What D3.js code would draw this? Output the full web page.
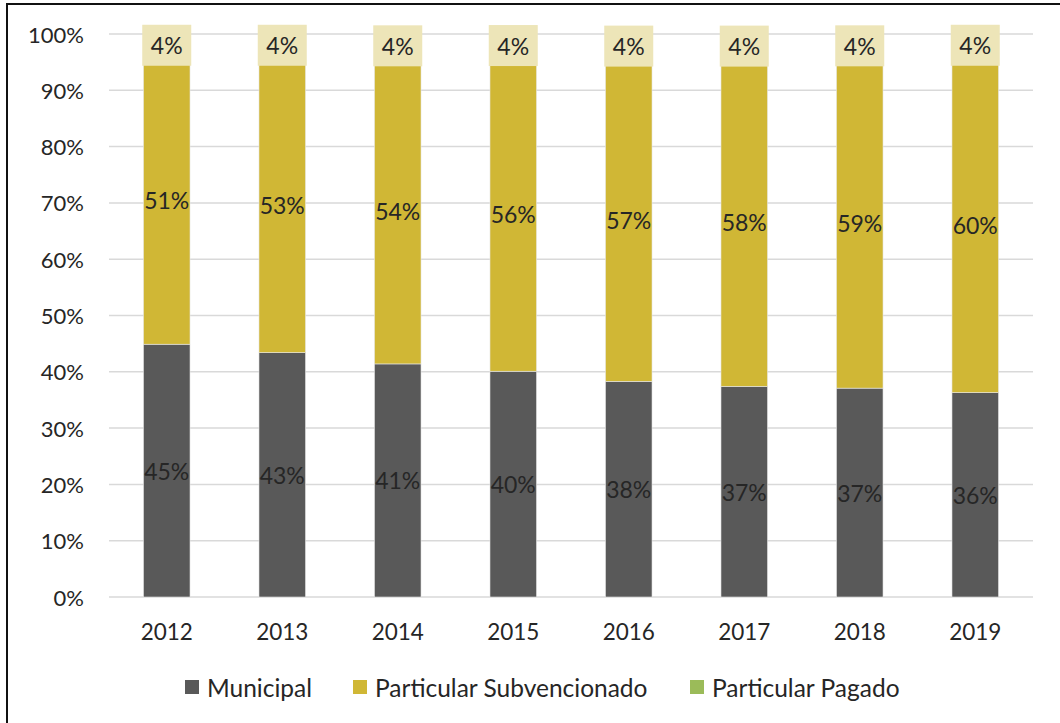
<!DOCTYPE html>
<html><head><meta charset="utf-8">
<script src="https://cdn.jsdelivr.net/npm/d3@7"></script>
<style>
html,body{margin:0;padding:0;background:#fff;}
svg{display:block;}
text{font-family:Lato,"Open Sans",sans-serif;fill:#262626;font-weight:400;}
</style></head>
<body>
<svg id="c" width="1060" height="723"></svg>
<script>
const years = ["2012","2013","2014","2015","2016","2017","2018","2019"];
const municipal = [44.9, 43.4, 41.4, 40.1, 38.3, 37.4, 37.1, 36.3];
const subvencionado = [51.1, 52.6, 54.4, 55.8, 57.4, 58.3, 58.7, 59.7];
const pagado = [4.0, 4.0, 4.2, 4.1, 4.3, 4.3, 4.2, 4.0];
const seriesNames = ["Municipal","Particular Subvencionado","Particular Pagado"];
const seriesColors = ["#595959","#d0b735","#9bbb59"];
const yTicks = [0,10,20,30,40,50,60,70,80,90,100];

const svg = d3.select("#c");
// outer frame
svg.append("rect").attr("x",7).attr("y",4).attr("width",1100).attr("height",800)
  .attr("fill","none").attr("stroke","#111").attr("stroke-width",2);

const x = d3.scaleBand().domain(years).range([109,1033]).paddingInner(0.597).paddingOuter(0.2985);
const y = d3.scaleLinear().domain([0,100]).range([597,34]);

// gridlines
svg.append("g").selectAll("line").data(yTicks).join("line")
  .attr("x1",109).attr("x2",1033).attr("y1",d=>y(d)).attr("y2",d=>y(d))
  .attr("stroke","#d9d9d9").attr("stroke-width",1.5);

// y labels
svg.append("g").selectAll("text").data(yTicks).join("text")
  .attr("x",84).attr("y",d=>y(d)).attr("text-anchor","end").attr("dominant-baseline","central")
  .style("font-size","22px").text(d=>d+"%");

// x labels
svg.append("g").selectAll("text").data(years).join("text")
  .attr("x",d=>x(d)+x.bandwidth()/2).attr("y",631).attr("text-anchor","middle").attr("dominant-baseline","central")
  .style("font-size","22.5px").text(d=>d);

const rows = years.map((yr,i)=>({year:yr, m:municipal[i], s:subvencionado[i], p:pagado[i]}));
const stack = d3.stack().keys(["m","s","p"])(rows);

const g = svg.append("g");
stack.forEach((layer,li)=>{
  g.append("g").selectAll("rect").data(layer).join("rect")
    .attr("x",d=>x(d.data.year)).attr("width",x.bandwidth())
    .attr("y",d=>y(d[1])).attr("height",d=>y(d[0])-y(d[1]))
    .attr("fill",seriesColors[li]).attr("stroke","#e8e8e8").attr("stroke-width",0.6);
});

// labels
stack.forEach((layer,li)=>{
  const lg = svg.append("g");
  if(li===2){
    lg.selectAll("rect").data(layer).join("rect")
      .attr("x",d=>x(d.data.year)+x.bandwidth()/2-24.5).attr("width",49)
      .attr("y",d=>(y(d[0])+y(d[1]))/2-20.5).attr("height",41)
      .attr("fill","#ede5b8");
  }
  lg.selectAll("text").data(layer).join("text")
    .attr("x",d=>x(d.data.year)+x.bandwidth()/2)
    .attr("y",d=>(y(d[0])+y(d[1]))/2)
    .attr("text-anchor","middle").attr("dominant-baseline","central")
    .style("font-size","23px")
    .text(d=>Math.round(d[1]-d[0])+"%");
});

// legend
const legX = [185, 353, 690];
const lgd = svg.append("g");
seriesNames.forEach((n,i)=>{
  lgd.append("rect").attr("x",legX[i]).attr("y",680).attr("width",14).attr("height",14).attr("fill",seriesColors[i]);
  lgd.append("text").attr("x",legX[i]+22).attr("y",687).attr("dominant-baseline","central")
    .style("font-size","24.5px").text(n);
});
</script>
</body></html>
